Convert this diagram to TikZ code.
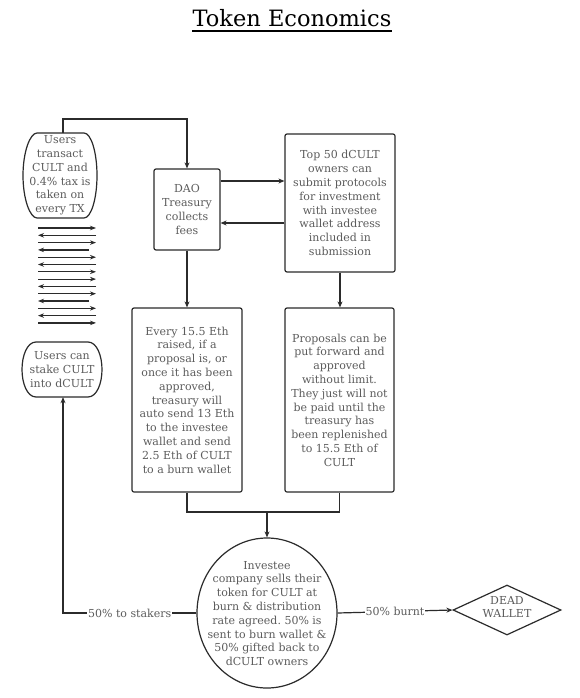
\documentclass[tikz,border=0pt]{standalone}
\usepackage{fontspec}
\setmainfont{DejaVu Serif}
\usetikzlibrary{arrows.meta,shapes.geometric}
\definecolor{txtgray}{HTML}{5C5C5C}
\definecolor{linec}{HTML}{2B2B2B}
\newcommand{\boxfont}{\fontsize{11}{13.8}\selectfont}
\frenchspacing
\begin{document}
\begin{tikzpicture}[x=1pt,y=-1pt,
  line/.style={draw=linec,line width=1.2pt},
  arr/.style={line,-{Stealth[length=6pt,width=5pt]}},
  arrs/.style={line,-{Stealth[length=6pt,width=4.5pt]}},
  boxn/.style={line,rounded corners=2pt,inner sep=0pt,align=center,text=txtgray,font=\boxfont},
  txt/.style={align=center,text=txtgray,font=\boxfont,inner sep=0pt}]
\useasboundingbox (0,0) rectangle (580,698);
\fill[white] (0,0) rectangle (580,698);

% title
\node[inner sep=0pt,anchor=base,font=\fontsize{22.5}{27}\selectfont] (title) at (292,27) {Token Economics};
\draw[line width=1.6pt,black] ([yshift=-3.5pt]title.south west) -- ([yshift=-3.5pt]title.south east);

% users transact (barrel)
\node[txt,minimum width=74pt,minimum height=85pt] (u1) at (60,175.5) {Users\\transact\\CULT and\\0.4\% tax is\\taken on\\every TX};
\draw[line] (37,133) -- (84,133) .. controls (91,133) and (97,152) .. (97,175.5)
  .. controls (97,199) and (91,218) .. (84,218) -- (37,218)
  .. controls (30,218) and (23,199) .. (23,175.5)
  .. controls (23,152) and (30,133) .. (37,133) -- cycle;

% users can stake (barrel)
\node[txt,minimum width=80pt,minimum height=55pt] (u2) at (62,369.5) {Users can\\stake CULT\\into dCULT};
\draw[line] (36,342) -- (88,342) .. controls (97,342) and (102,356) .. (102,369.5)
  .. controls (102,383) and (97,397) .. (88,397) -- (36,397)
  .. controls (27,397) and (22,383) .. (22,369.5)
  .. controls (22,356) and (27,342) .. (36,342) -- cycle;

% arrow stack
\foreach \i in {0,2,4,6,7,9,11,13} \draw[arrs] (38,228+\i*7.3) -- (96,228+\i*7.3);
\foreach \i in {1,5,8,12} \draw[arrs] (96,228+\i*7.3) -- (38,228+\i*7.3);
\foreach \i in {3,10} \draw[arrs] (89,228+\i*7.3) -- (38,228+\i*7.3);

% boxes
\node[boxn,minimum width=66pt,minimum height=81pt] (dao) at (187,209.5) {DAO\\Treasury\\collects\\fees};
\node[boxn,minimum width=110pt,minimum height=138pt] (top) at (340,203) {Top 50 dCULT\\owners can\\submit protocols\\for investment\\with investee\\wallet address\\included in\\submission};
\node[boxn,minimum width=110pt,minimum height=184pt] (every) at (187,400) {Every 15.5 Eth\\raised, if a\\proposal is, or\\once it has been\\approved,\\treasury will\\auto send 13 Eth\\to the investee\\wallet and send\\2.5 Eth of CULT\\to a burn wallet};
\node[boxn,minimum width=109pt,minimum height=184pt] (prop) at (339.5,400) {Proposals can be\\put forward and\\approved\\without limit.\\They just will not\\be paid until the\\treasury has\\been replenished\\to 15.5 Eth of\\CULT};

% ellipse
\node[line,ellipse,minimum width=140pt,minimum height=150pt,inner sep=0pt] (inv) at (267,613) {};
\node[txt] (invtxt) at (267,613.5) {Investee\\company sells their\\token for CULT at\\burn \& distribution\\rate agreed. 50\% is\\sent to burn wallet \&\\50\% gifted back to\\dCULT owners};

% diamond
\node[line,diamond,minimum width=108pt,minimum height=50pt,inner sep=0pt] (dead) at (507,610) {};
\node[txt] (deadtxt) at (507,607) {DEAD\\WALLET};

% connectors
\coordinate (a1) at (0,181);
\coordinate (a2) at (0,223);
\coordinate (m) at (267,512);
\draw[arr] (u1.north -| 63,0) -- (63,119) -| (dao.north);
\draw[arr] (dao.east |- a1) -- (top.west |- a1);
\draw[arr] (top.west |- a2) -- (dao.east |- a2);
\draw[arr] (dao.south) -- (every.north);
\draw[arr] (top.south) -- (top.south |- prop.north);
\draw[line] (every.south) |- (prop.south |- m) -- (prop.south);
\draw[arr] (m) -- (inv.north);
\draw[arr] (inv.west) -| node[pos=0.25,txt,fill=white,inner sep=1pt] {50\% to stakers} (u2.south -| 63,0);
\draw[arr] (inv.east) -- node[txt,fill=white,inner sep=1pt] {50\% burnt} (dead.west);
\end{tikzpicture}
\end{document}
